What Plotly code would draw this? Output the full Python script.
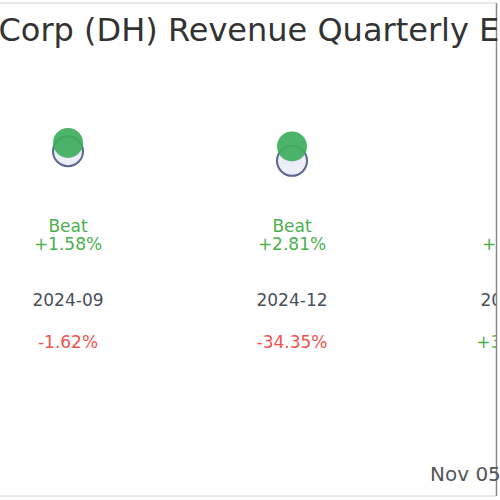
import plotly.graph_objects as go

# ── data ───────────────────────────────────────────────────────────────────────
quarters = ["2024-09", "2024-12", "2025-03"]
revenue_actual = [62.7, 62.3, 59.2]          # $M
revenue_estimate = [61.73, 60.60, 56.25]     # $M
result_labels = ["Beat", "Beat", "Beat"]
surprise_labels = ["+1.58%", "+2.81%", "+5.24%"]
change_labels = ["-1.62%", "-34.35%", "+31.26%"]

TITLE = "Definitive Healthcare Corp (DH) Revenue Quarterly Earnings"
FOOTNOTE = "Nov 05, 2025"

GREEN = "#3dae5c"
GREEN_TXT = "#4caf50"
RED_TXT = "#ef5350"
DATE_TXT = "#4a4f5c"
FONT = "DejaVu Sans, sans-serif"

# the figure is wider than the 500px window; only the left 500px show
FIG_W, FIG_H, VIEW_W = 560, 500, 500

# text rows (fraction of the page height)
ROW_RESULT = 0.544
ROW_SURPRISE = 0.508
ROW_DATE = 0.396
ROW_CHANGE = 0.312

change_colors = [RED_TXT if s.startswith("-") else GREEN_TXT for s in change_labels]

fig = go.Figure()

# estimate (ring) under the actual (green) marker
fig.add_trace(go.Scatter(
    x=quarters, y=revenue_estimate, mode="markers", name="Estimate",
    marker=dict(size=30, color="#eceef8", line=dict(color="#5c6490", width=2)),
))
fig.add_trace(go.Scatter(
    x=quarters, y=revenue_actual, mode="markers", name="Actual",
    marker=dict(size=30, color=GREEN, opacity=0.92, line=dict(width=0)),
))


def _text_row(labels, row, colors, size=17):
    fig.add_trace(go.Scatter(
        x=quarters, y=[row] * len(labels), yaxis="y2", mode="text",
        text=labels, textposition="middle center", cliponaxis=False,
        textfont=dict(family=FONT, size=size, color=colors),
        hoverinfo="skip",
    ))


_text_row(result_labels, ROW_RESULT, GREEN_TXT)
_text_row(surprise_labels, ROW_SURPRISE, GREEN_TXT)
_text_row(quarters, ROW_DATE, DATE_TXT)
_text_row(change_labels, ROW_CHANGE, change_colors)

fig.add_annotation(
    text=TITLE, xref="paper", yref="paper", x=-352 / FIG_W, y=0.940,
    xanchor="left", yanchor="middle", showarrow=False,
    font=dict(family=FONT, size=32, color="#333333"),
)
fig.add_annotation(
    text=FOOTNOTE, xref="paper", yref="paper", x=428 / FIG_W, y=0.052,
    xanchor="left", yanchor="middle", showarrow=False,
    font=dict(family=FONT, size=20, color="#555555"),
)

# frame: everything right of the edge line is blanked out
edge = (VIEW_W - 3.5) / FIG_W
fig.add_shape(type="rect", xref="paper", yref="paper", x0=edge, x1=1, y0=0, y1=1,
              fillcolor="white", line=dict(width=0), layer="above")
fig.add_shape(type="line", xref="paper", yref="paper", x0=0, x1=edge, y0=0.994, y1=0.994,
              line=dict(color="#e2e2e2", width=1.5))
fig.add_shape(type="line", xref="paper", yref="paper", x0=0, x1=edge, y0=0.008, y1=0.008,
              line=dict(color="#e2e2e2", width=1.5))
fig.add_shape(type="line", xref="paper", yref="paper", x0=edge, x1=edge, y0=0.008, y1=0.994,
              line=dict(color="#8a8a8a", width=1.5))

x_lo = -0.3036
fig.update_layout(
    width=FIG_W, height=FIG_H,
    margin=dict(l=0, r=0, t=0, b=0),
    paper_bgcolor="white", plot_bgcolor="white",
    showlegend=False,
    font=dict(family=FONT),
    xaxis=dict(visible=False, type="category", range=[x_lo, x_lo + FIG_W / 224]),
    yaxis=dict(visible=False, range=[20.7, 79.52]),
    yaxis2=dict(visible=False, range=[0, 1], overlaying="y"),
)

# figure starts at the window corner, no scrollbars
fig.write_html(
    "out.html",
    config={"displayModeBar": False},
    post_script=("document.body.style.margin = '0';"
                 "document.body.style.overflow = 'hidden';"
                 "document.documentElement.style.overflow = 'hidden';"),
)
